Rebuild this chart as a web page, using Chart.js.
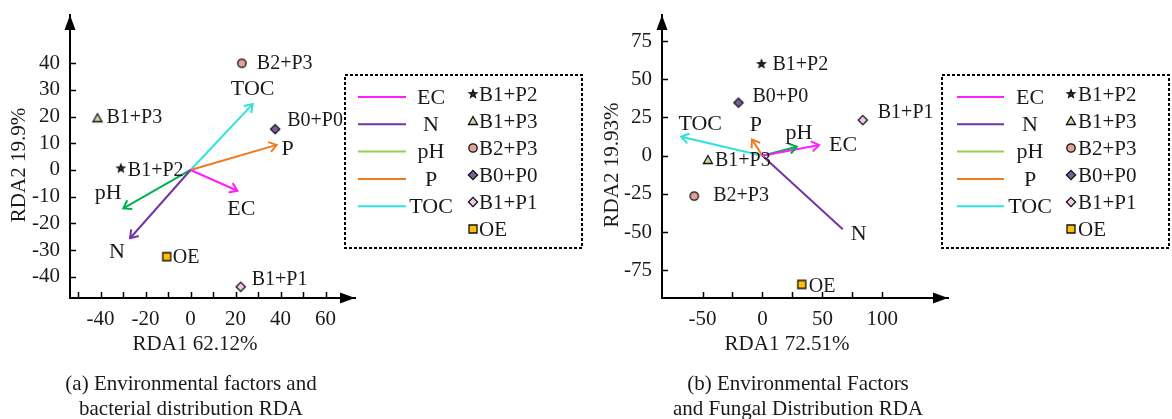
<!DOCTYPE html>
<html>
<head>
<meta charset="utf-8">
<script src="https://cdn.jsdelivr.net/npm/chart.js@4.4.1/dist/chart.umd.min.js"></script>
<style>
  body { margin: 0; background: #fff; width: 1172px; height: 419px; position: relative; overflow: hidden;
         font-family: "Liberation Serif", "Times New Roman", serif; color: #1a1a1a; }
  canvas { position: absolute; top: 0; }
  #chartA { left: 0; }
  #chartB { left: 590px; }
  .caption { position: absolute; top: 371px; width: 400px; font-size: 21px; line-height: 25px; text-align: center; }
</style>
</head>
<body>
<canvas id="chartA" width="590" height="419"></canvas>
<canvas id="chartB" width="582" height="419"></canvas>
<div class="caption" style="left:-9px">(a) Environmental factors and<br>bacterial distribution RDA</div>
<div class="caption" style="left:598px">(b) Environmental Factors<br>and Fungal Distribution RDA</div>

<script>
const SERIF = '"Liberation Serif", "Times New Roman", serif';

const sites = ['B1+P2', 'B1+P3', 'B2+P3', 'B0+P0', 'B1+P1', 'OE'];
const factors = ['EC', 'N', 'pH', 'P', 'TOC'];

// (a) bacteria
const bacSiteX = [-31.0, -41.4, 22.8, 37.6, 22.3, -10.6];
const bacSiteY = [0.6, 19.4, 40.0, 15.3, -43.8, -32.5];
const bacFactorX = [20.8, -26.9, -29.9, 38.3, 27.6];
const bacFactorY = [-7.8, -25.6, -14.4, 9.4, 24.7];
const bacXLabels = [-40, -20, 0, 20, 40, 60];
const bacYLabels = [-40, -30, -20, -10, 0, 10, 20, 30, 40];

// (b) fungi
const funSiteX = [-0.8, -45.5, -56.9, -20.0, 83.7, 32.8];
const funSiteY = [60.0, -2.8, -26.4, 34.7, 23.3, -84.1];
const funFactorX = [47.3, 67.0, 28.7, -8.8, -67.8];
const funFactorY = [7.0, -48.0, 5.9, 10.7, 12.4];
const funXLabels = [-50, 0, 50, 100];
const funYLabels = [-75, -50, -25, 0, 25, 50, 75];

// styling
const siteShapes = ['star', 'triangle', 'circle', 'diamond', 'diamond', 'square'];
const siteFills = ['#1f2f5a', '#c6dbaa', '#e3a198', '#7a5fa0', '#f6c6f0', '#ffc000'];
const factorColors = ['#ff1eff', '#7433a6', '#00b050', '#f07a22', '#2ee3dc'];
const legendLineColors = ['#ff1eff', '#7433a6', '#92d050', '#f07a22', '#2ee3dc'];

function marker(shape, fill) {
    const c = document.createElement('canvas');
    c.width = 14; c.height = 14;
    const g = c.getContext('2d');
    const m = 7;
    g.fillStyle = fill;
    g.strokeStyle = '#111';
    g.lineWidth = 1.3;
    g.beginPath();
    if (shape === 'circle') {
        g.arc(m, m, 4.2, 0, Math.PI * 2);
    } else if (shape === 'square') {
        g.rect(m - 4, m - 4, 8, 8);
    } else if (shape === 'diamond') {
        g.moveTo(m, m - 4.6); g.lineTo(m + 4.6, m); g.lineTo(m, m + 4.6); g.lineTo(m - 4.6, m);
        g.closePath();
    } else if (shape === 'triangle') {
        g.moveTo(m, m - 4.5); g.lineTo(m + 4.5, m + 3.5); g.lineTo(m - 4.5, m + 3.5);
        g.closePath();
    } else {
        for (let i = 0; i < 10; i++) {
            const r = i % 2 ? 1.7 : 4;
            const a = -Math.PI / 2 + i * Math.PI / 5;
            g.lineTo(m + r * Math.cos(a), m + r * Math.sin(a));
        }
        g.closePath();
    }
    g.fill();
    g.stroke();
    return c;
}

const rdaPlugin = {
    id: 'rda',
    afterDatasetsDraw(chart, args, o) {
        const ctx = chart.ctx;
        const {left, right, top, bottom} = chart.chartArea;
        const xs = chart.scales.x, ys = chart.scales.y;
        ctx.save();

        // inward tick marks
        ctx.strokeStyle = '#000';
        ctx.lineWidth = 1.5;
        ctx.beginPath();
        xs.ticks.forEach(t => {
            const px = Math.round(xs.getPixelForValue(t.value)) + 0.5;
            ctx.moveTo(px, bottom); ctx.lineTo(px, bottom - 6);
        });
        ys.ticks.forEach(t => {
            const py = Math.round(ys.getPixelForValue(t.value)) + 0.5;
            ctx.moveTo(left, py); ctx.lineTo(left + 6, py);
        });
        ctx.stroke();

        // axis arrowheads
        ctx.fillStyle = '#000';
        ctx.beginPath();
        ctx.moveTo(right, bottom); ctx.lineTo(right - 15, bottom - 5.5); ctx.lineTo(right - 15, bottom + 5.5);
        ctx.closePath();
        ctx.moveTo(left, top); ctx.lineTo(left - 5.5, top + 15); ctx.lineTo(left + 5.5, top + 15);
        ctx.closePath();
        ctx.fill();

        // factor arrowheads + labels
        ctx.fillStyle = '#1a1a1a';
        ctx.textBaseline = 'middle';
        chart.data.datasets.forEach((ds, i) => {
            if (!ds.showLine) return;
            const pts = chart.getDatasetMeta(i).data;
            const a = pts[0], b = pts[1];
            if (ds.arrow) {
                const ang = Math.atan2(b.y - a.y, b.x - a.x);
                ctx.strokeStyle = ds.borderColor;
                ctx.lineWidth = 2;
                ctx.beginPath();
                ctx.moveTo(b.x - 9 * Math.cos(ang - 0.6), b.y - 9 * Math.sin(ang - 0.6));
                ctx.lineTo(b.x, b.y);
                ctx.lineTo(b.x - 9 * Math.cos(ang + 0.6), b.y - 9 * Math.sin(ang + 0.6));
                ctx.stroke();
            }
            const n = o.factorNudge[ds.idx];
            ctx.font = '22px ' + SERIF;
            ctx.textAlign = 'center';
            ctx.fillText(ds.label, b.x + n[0], b.y + n[1]);
        });

        // site labels
        ctx.font = '20px ' + SERIF;
        ctx.textAlign = 'left';
        chart.data.datasets.forEach((ds, i) => {
            if (ds.showLine) return;
            const p = chart.getDatasetMeta(i).data[0];
            const n = o.siteNudge[ds.idx];
            ctx.fillText(ds.label, p.x + n[0], p.y + n[1]);
        });

        // axis titles
        ctx.font = '21px ' + SERIF;
        ctx.textAlign = 'center';
        ctx.fillText(o.xTitle, o.xTitlePos[0], o.xTitlePos[1]);
        ctx.save();
        ctx.translate(o.yTitlePos[0], o.yTitlePos[1]);
        ctx.rotate(-Math.PI / 2);
        ctx.fillText(o.yTitle, 0, 0);
        ctx.restore();

        // legend box
        const lg = o.legend;
        ctx.strokeStyle = '#000';
        ctx.lineWidth = 2;
        ctx.setLineDash([3, 2]);
        ctx.strokeRect(lg.x, lg.y, lg.w, lg.h);
        ctx.setLineDash([]);
        factors.forEach((f, i) => {
            const y = lg.rowY + i * lg.rowStep;
            ctx.strokeStyle = legendLineColors[i];
            ctx.lineWidth = 2;
            ctx.beginPath();
            ctx.moveTo(lg.lineX1, y); ctx.lineTo(lg.lineX2, y);
            ctx.stroke();
            ctx.font = '22px ' + SERIF;
            ctx.textAlign = 'center';
            ctx.fillText(f, lg.textX, y + 1);
        });
        sites.forEach((s, i) => {
            const y = lg.siteY + i * lg.siteStep;
            const img = marker(siteShapes[i], siteFills[i]);
            ctx.drawImage(img, lg.markX - 7, y - 8);
            ctx.font = '21px ' + SERIF;
            ctx.textAlign = 'left';
            ctx.fillText(s, lg.siteTextX, y);
        });

        ctx.restore();
    }
};

function buildChart(id, opt) {
    const datasets = [];
    sites.forEach((name, i) => datasets.push({
        label: name,
        idx: i,
        data: [{x: opt.siteX[i], y: opt.siteY[i]}],
        pointStyle: marker(siteShapes[i], siteFills[i]),
        pointRadius: 6,
        order: 0
    }));
    factors.forEach((name, i) => datasets.push({
        label: name,
        idx: i,
        data: [{x: 0, y: 0}, {x: opt.factorX[i], y: opt.factorY[i]}],
        showLine: true,
        borderColor: factorColors[i],
        borderWidth: 2,
        pointRadius: 0,
        arrow: opt.arrowHeads[i],
        order: 1
    }));

    const tickFont = {family: SERIF, size: 21};
    return new Chart(document.getElementById(id), {
        type: 'scatter',
        data: {datasets},
        options: {
            responsive: false,
            animation: false,
            events: [],
            layout: {padding: opt.padding, autoPadding: false},
            plugins: {
                legend: {display: false},
                tooltip: {enabled: false},
                rda: opt.plugin
            },
            scales: {
                x: {
                    type: 'linear',
                    position: 'bottom',
                    min: opt.xMin, max: opt.xMax,
                    grid: {display: true, drawOnChartArea: false, drawTicks: false},
                    border: {display: true, color: '#000', width: 2},
                    ticks: {
                        stepSize: opt.xStep, includeBounds: false, autoSkip: false, maxRotation: 0,
                        padding: 9, color: '#1a1a1a', font: tickFont,
                        callback: v => opt.xLabels.includes(v) ? String(v) : ''
                    },
                    afterBuildTicks: s => { s.ticks = s.ticks.filter(t => t.value >= opt.xTickRange[0] && t.value <= opt.xTickRange[1]); },
                    afterFit: s => { s.height = 60; s.paddingLeft = 0; s.paddingRight = 0; s.paddingTop = 0; s.paddingBottom = 0; }
                },
                y: {
                    type: 'linear',
                    position: 'left',
                    min: opt.yMin, max: opt.yMax,
                    grid: {display: true, drawOnChartArea: false, drawTicks: false},
                    border: {display: true, color: '#000', width: 2},
                    ticks: {
                        stepSize: opt.yStep, includeBounds: false, autoSkip: false,
                        padding: 10, color: '#1a1a1a', font: tickFont,
                        callback: v => opt.yLabels.includes(v) ? String(v) : ''
                    },
                    afterBuildTicks: s => { s.ticks = s.ticks.filter(t => t.value >= opt.yTickRange[0] && t.value <= opt.yTickRange[1]); },
                    afterFit: s => { s.width = opt.yWidth; s.paddingLeft = 0; s.paddingRight = 0; s.paddingTop = 0; s.paddingBottom = 0; }
                }
            }
        },
        plugins: [rdaPlugin]
    });
}

buildChart('chartA', {
    siteX: bacSiteX, siteY: bacSiteY,
    factorX: bacFactorX, factorY: bacFactorY,
    arrowHeads: [true, true, true, true, true],
    xMin: -53.6, xMax: 73.1, xStep: 10, xLabels: bacXLabels, xTickRange: [-50, 60],
    yMin: -48, yMax: 58.1, yStep: 10, yLabels: bacYLabels, yTickRange: [-40, 40],
    yWidth: 70,
    padding: {left: 0, top: 15, right: 235, bottom: 61},
    plugin: {
        factorNudge: [[4, 18], [-13, 14], [-15, -15], [11, 4], [0, -15]],
        siteNudge: [[7, 2], [9, 0], [15, 0], [12, -8], [11, -7], [6, 1]],
        xTitle: 'RDA1 62.12%', xTitlePos: [195, 344],
        yTitle: 'RDA2 19.9%', yTitlePos: [19, 165],
        legend: {x: 345, y: 75, w: 237, h: 173, lineX1: 358, lineX2: 406, textX: 431,
                 rowY: 97, rowStep: 27.3, markX: 473, siteTextX: 479, siteY: 95, siteStep: 27}
    }
});

buildChart('chartB', {
    siteX: funSiteX, siteY: funSiteY,
    factorX: funFactorX, factorY: funFactorY,
    arrowHeads: [true, false, true, true, true],
    xMin: -83.8, xMax: 154.8, xStep: 25, xLabels: funXLabels, xTickRange: [-50, 100],
    yMin: -93, yMax: 92, yStep: 25, yLabels: funYLabels, yTickRange: [-75, 75],
    yWidth: 72,
    padding: {left: 0, top: 15, right: 224, bottom: 61},
    plugin: {
        factorNudge: [[24, 0], [16, 5], [2, -13], [4, -14], [19, -13]],
        siteNudge: [[11, 1], [7, 1], [19, 0], [14, -6], [15, -7], [7, 2]],
        xTitle: 'RDA1 72.51%', xTitlePos: [197, 344],
        yTitle: 'RDA2 19.93%', yTitlePos: [22, 165],
        legend: {x: 352, y: 75, w: 227, h: 173, lineX1: 367, lineX2: 414, textX: 440,
                 rowY: 97, rowStep: 27.3, markX: 481, siteTextX: 488, siteY: 95, siteStep: 27}
    }
});
</script>
</body>
</html>
